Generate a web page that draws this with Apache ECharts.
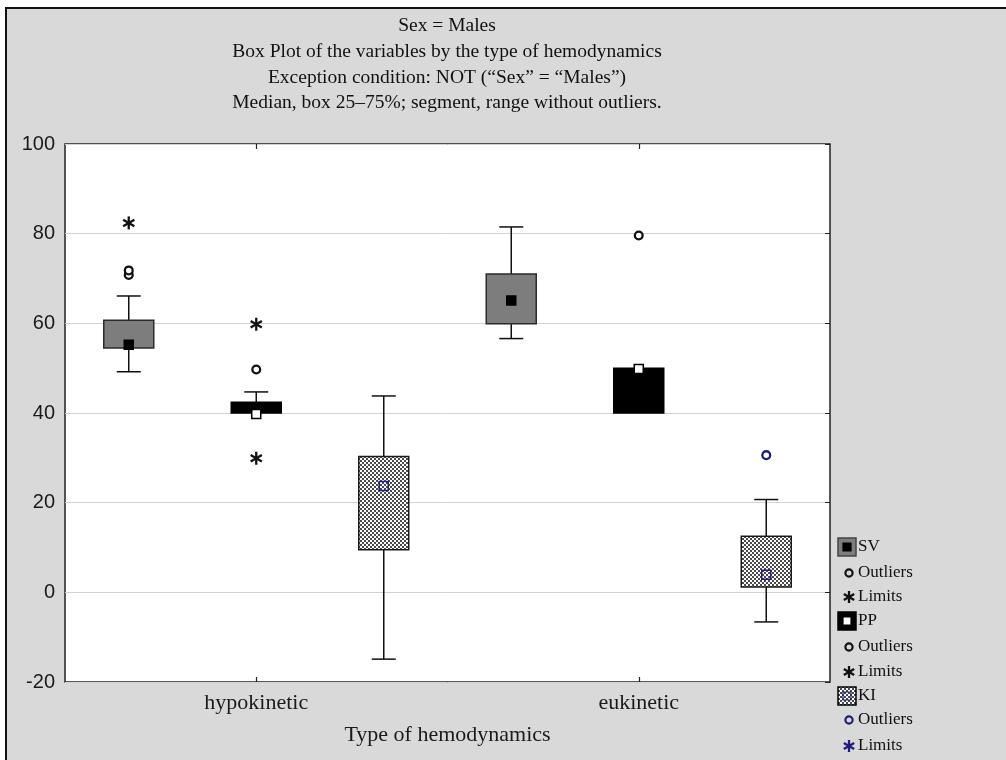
<!DOCTYPE html>
<html><head><meta charset="utf-8">
<script src="https://cdn.jsdelivr.net/npm/echarts@6/dist/echarts.min.js"></script>
<style>html,body{margin:0;padding:0;background:#fff}#c{width:1006px;height:760px}</style>
</head><body><div id="c"></div>
<script>
const categories = ['hypokinetic', 'eukinetic'];
const titleLines = ['Sex = Males', 'Box Plot of the variables by the type of hemodynamics', 'Exception condition: NOT (\u201cSex\u201d = \u201cMales\u201d)', 'Median, box 25\u201375%; segment, range without outliers.'];
const xAxisName = 'Type of hemodynamics';
const yMin = -20, yMax = 100, yStep = 20;
// [min, q1, median, q3, max] per category
const svBox = [[49.2, 54.5, 55.2, 60.7, 66.1], [56.6, 59.9, 65.1, 71.0, 81.5]];
const ppBox = [[40.0, 40.0, 39.8, 42.4, 44.7], [40.0, 40.0, 49.8, 50.0, 50.0]];
const kiBox = [[-14.9, 9.5, 23.7, 30.3, 43.8], [-6.6, 1.2, 3.9, 12.5, 20.7]];
// [categoryIndex, value]
const svOutliers = [[0, 70.8], [0, 71.8]];
const svLimits = [[0, 82.4]];
const ppOutliers = [[0, 49.7], [1, 79.6]];
const ppLimits = [[0, 59.8], [0, 29.9]];
const kiOutliers = [[1, 30.6]];
const kiLimits = [];
const variableNames = ['SV', 'PP', 'KI'];
const legendSub = ['Outliers', 'Limits'];

function hatchCanvas() {
  const c = document.createElement('canvas'); c.width = 4; c.height = 4;
  const g = c.getContext('2d');
  g.fillStyle = '#ffffff'; g.fillRect(0, 0, 4, 4);
  g.fillStyle = '#4a4a4a';
  g.fillRect(0, 0, 2, 2); g.fillRect(2, 2, 2, 2);
  return c;
}
const hatch = { image: hatchCanvas(), repeat: 'repeat' };
const styles = [
  { fill: '#7d7d7d', stroke: '#2a2a2a', medFill: '#000', medStroke: '#000', mark: '#111' },
  { fill: '#000', stroke: '#000', medFill: '#fff', medStroke: '#000', mark: '#111' },
  { fill: hatch, stroke: '#1a1a1a', medFill: hatch, medStroke: '#1e1e86', mark: '#1e1e7a' }
];

function starShape(cx, cy, r, color) {
  return { type: 'group', children: [90, 30, -30].map(a => {
    const rad = a * Math.PI / 180, dx = r * Math.cos(rad), dy = r * Math.sin(rad);
    return { type: 'line', shape: { x1: cx - dx, y1: cy - dy, x2: cx + dx, y2: cy + dy }, style: { stroke: color, lineWidth: 2.3 } };
  }) };
}

function boxSeries(name, boxes, vi) {
  const st = styles[vi];
  return {
    type: 'custom', name, z: 3,
    data: boxes.map((b, i) => [i].concat(b)),
    encode: { x: 0, y: [1, 2, 3, 4, 5] },
    renderItem(params, api) {
      const ci = api.value(0);
      const band = api.size([1, 0])[0];
      const cx = api.coord([ci, 0])[0] + (vi - 1) * band / 3;
      const y = k => api.coord([ci, api.value(k)])[1];
      const yLo = y(1), yQ1 = y(2), yMed = y(3), yQ3 = y(4), yHi = y(5);
      const bw = 50, cw = 24, ms = 9;
      const ls = { stroke: '#111', lineWidth: 1.5 };
      const ch = [];
      if (yHi < yQ3 - 0.5) {
        ch.push({ type: 'line', shape: { x1: cx, y1: yQ3, x2: cx, y2: yHi }, style: ls });
        ch.push({ type: 'line', shape: { x1: cx - cw / 2, y1: yHi, x2: cx + cw / 2, y2: yHi }, style: ls });
      }
      if (yLo > yQ1 + 0.5) {
        ch.push({ type: 'line', shape: { x1: cx, y1: yQ1, x2: cx, y2: yLo }, style: ls });
        ch.push({ type: 'line', shape: { x1: cx - cw / 2, y1: yLo, x2: cx + cw / 2, y2: yLo }, style: ls });
      }
      ch.push({ type: 'rect', shape: { x: cx - bw / 2, y: yQ3, width: bw, height: yQ1 - yQ3 }, style: { fill: st.fill, stroke: st.stroke, lineWidth: 1.5 } });
      ch.push({ type: 'rect', shape: { x: cx - ms / 2, y: yMed - ms / 2, width: ms, height: ms }, style: { fill: st.medFill, stroke: st.medStroke, lineWidth: 1.5 } });
      return { type: 'group', children: ch };
    }
  };
}

function markSeries(name, pts, vi, kind) {
  const color = styles[vi].mark;
  return {
    type: 'custom', name, z: 5, data: pts, encode: { x: 0, y: 1 },
    renderItem(params, api) {
      const band = api.size([1, 0])[0];
      const p = api.coord([api.value(0), api.value(1)]);
      const cx = p[0] + (vi - 1) * band / 3, cy = p[1];
      if (kind === 'circle') return { type: 'circle', shape: { cx, cy, r: 3.9 }, style: { fill: '#fff', stroke: color, lineWidth: 2.3 } };
      return starShape(cx, cy, 6.5, color);
    }
  };
}

// legend graphics
const legendRows = [547, 573, 597, 621, 647, 672, 696, 720, 746];
const legendEls = [];
variableNames.forEach((nm, vi) => {
  const st = styles[vi];
  const yb = legendRows[vi * 3];
  legendEls.push({ type: 'rect', shape: { x: 838, y: yb - 9, width: 18, height: 18 }, style: { fill: st.fill, stroke: vi === 0 ? '#444' : '#000', lineWidth: 1.5 } });
  legendEls.push({ type: 'rect', shape: { x: 843, y: yb - 4, width: 8, height: 8 }, style: { fill: vi === 0 ? '#000' : vi === 1 ? '#fff' : hatch, stroke: st.medStroke, lineWidth: 1.2 } });
  legendEls.push({ type: 'text', x: 858, y: yb, style: { text: nm, font: '17px "Liberation Serif"', fill: '#111', textVerticalAlign: 'middle' } });
  const yo = legendRows[vi * 3 + 1], yl = legendRows[vi * 3 + 2];
  legendEls.push({ type: 'circle', shape: { cx: 849, cy: yo, r: 3.6 }, style: { fill: 'none', stroke: st.mark, lineWidth: 2.2 } });
  legendEls.push({ type: 'text', x: 858, y: yo, style: { text: legendSub[0], font: '17px "Liberation Serif"', fill: '#111', textVerticalAlign: 'middle' } });
  legendEls.push(starShape(849, yl, 6, st.mark));
  legendEls.push({ type: 'text', x: 858, y: yl, style: { text: legendSub[1], font: '17px "Liberation Serif"', fill: '#111', textVerticalAlign: 'middle' } });
});

const titleYs = [26, 52, 78, 103];
const titleEls = titleLines.map((t, i) => ({ type: 'text', x: 447, y: titleYs[i], style: { text: t, font: '19.5px "Liberation Serif"', fill: '#111', textAlign: 'center', textVerticalAlign: 'middle' } }));

const frameEls = [
  { type: 'rect', shape: { x: 0, y: 0, width: 1006, height: 7 }, style: { fill: '#fff' } },
  { type: 'rect', shape: { x: 0, y: 0, width: 5, height: 760 }, style: { fill: '#fff' } },
  { type: 'line', shape: { x1: 5, y1: 8, x2: 1006, y2: 8 }, style: { stroke: '#111', lineWidth: 2 } },
  { type: 'line', shape: { x1: 6, y1: 8, x2: 6, y2: 760 }, style: { stroke: '#111', lineWidth: 2 } }
];

const chart = echarts.init(document.getElementById('c'));
const tickCommon = { show: true, inside: true, length: 5, alignWithLabel: true, lineStyle: { color: '#222', width: 1.2 } };
chart.setOption({
  backgroundColor: '#d9d9d9',
  animation: false,
  grid: { left: 65, top: 144, width: 765, height: 538, show: true, backgroundColor: '#fff', borderColor: '#222', borderWidth: 1.5 },
  xAxis: [
    { type: 'category', data: categories, position: 'bottom', axisLine: { show: false, onZero: false }, axisTick: tickCommon,
      axisLabel: { fontFamily: 'Liberation Serif', fontSize: 22, color: '#1a1a1a', margin: 10 },
      name: xAxisName, nameLocation: 'middle', nameGap: 42,
      nameTextStyle: { fontFamily: 'Liberation Serif', fontSize: 22, color: '#1a1a1a' } },
    { type: 'category', data: categories, position: 'top', axisLine: { show: false, onZero: false }, axisTick: tickCommon, axisLabel: { show: false } }
  ],
  yAxis: [
    { type: 'value', min: yMin, max: yMax, interval: yStep, axisLine: { show: false }, axisTick: { show: false },
      axisLabel: { fontFamily: 'Liberation Sans', fontSize: 20, color: '#1a1a1a', margin: 10 },
      splitLine: { lineStyle: { color: '#d2d2d2', width: 1 } } },
    { type: 'value', min: yMin, max: yMax, interval: yStep, position: 'right', axisLine: { show: false, onZero: false },
      axisTick: { show: true, inside: true, length: 5, lineStyle: { color: '#222' } }, axisLabel: { show: false }, splitLine: { show: false } }
  ],
  graphic: frameEls.concat(titleEls, legendEls),
  series: [
    boxSeries('SV', svBox, 0), boxSeries('PP', ppBox, 1), boxSeries('KI', kiBox, 2),
    markSeries('SV Outliers', svOutliers, 0, 'circle'), markSeries('SV Limits', svLimits, 0, 'star'),
    markSeries('PP Outliers', ppOutliers, 1, 'circle'), markSeries('PP Limits', ppLimits, 1, 'star'),
    markSeries('KI Outliers', kiOutliers, 2, 'circle'), markSeries('KI Limits', kiLimits, 2, 'star')
  ]
});
</script></body></html>
